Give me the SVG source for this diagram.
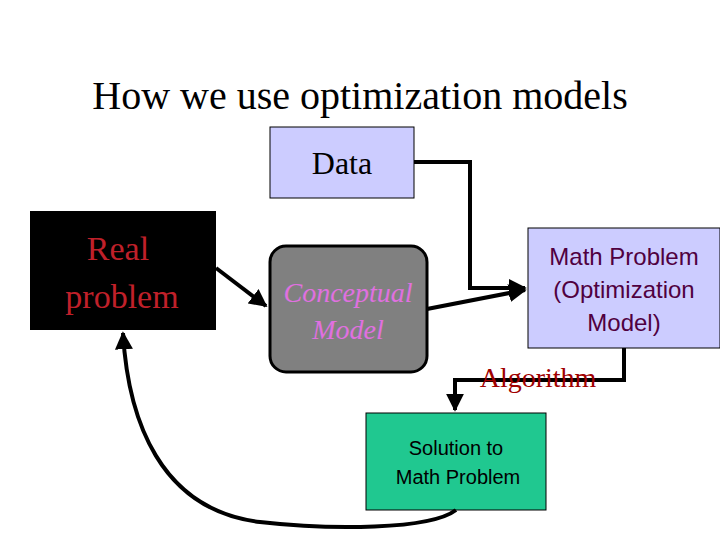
<svg xmlns="http://www.w3.org/2000/svg" width="720" height="540" viewBox="0 0 720 540">
<style>
.serif{font-family:"Liberation Serif",serif}
.sans{font-family:"Liberation Sans",sans-serif}
.c{fill:none;stroke:#000;stroke-width:4}
</style>
<defs><marker id="a" viewBox="0 0 10 10" refX="9" refY="5" markerWidth="4.5" markerHeight="4.5" orient="auto" markerUnits="strokeWidth"><path d="M0,0L10,5L0,10z" fill="#000"/></marker></defs>
<rect width="720" height="540" fill="#fff"/>
<text x="360" y="109" text-anchor="middle" class="serif" font-size="40">How we use optimization models</text>
<g id="data"><rect x="270" y="127" width="144" height="71" fill="#ccccff" stroke="#000" stroke-width="1"/><text x="342" y="174" text-anchor="middle" class="serif" font-size="32">Data</text></g>
<g id="real"><rect x="30" y="211" width="186" height="119" fill="#000"/><text x="118" y="260" text-anchor="middle" class="serif" font-size="34" fill="#c0202a">Real</text><text x="122" y="308" text-anchor="middle" class="serif" font-size="34" fill="#c0202a">problem</text></g>
<g id="concept"><rect x="270" y="246" width="157" height="126" rx="16" fill="#808080" stroke="#000" stroke-width="3"/><text x="348" y="302" text-anchor="middle" class="serif" font-size="28" font-style="italic" fill="#e070e0">Conceptual</text><text x="348" y="339" text-anchor="middle" class="serif" font-size="28" font-style="italic" fill="#e070e0">Model</text></g>
<g id="math"><rect x="528" y="228" width="192" height="120" fill="#ccccff" stroke="#000" stroke-width="1"/><g class="sans" font-size="24" fill="#500040" text-anchor="middle"><text x="624" y="265">Math Problem</text><text x="624" y="298">(Optimization</text><text x="624" y="331">Model)</text></g></g>
<g id="solution"><rect x="366" y="413" width="180" height="97" fill="#20c890" stroke="#000" stroke-width="1"/><g class="sans" font-size="20" text-anchor="middle"><text x="456" y="455">Solution to</text><text x="458" y="484">Math Problem</text></g></g>
<g id="connectors">
<path class="c" d="M414,162H470V288H525" marker-end="url(#a)"/>
<path class="c" d="M427,309L525,290" marker-end="url(#a)"/>
<path class="c" d="M216,268L266,306" marker-end="url(#a)"/>
<path class="c" d="M624,348V380H455V410" marker-end="url(#a)"/>
<path class="c" d="M456,510C430,530 330,530 260,522C160,510 128,420 123,333" marker-end="url(#a)"/>
</g>
<text x="538" y="387" text-anchor="middle" class="serif" font-size="28" fill="#a00000">Algorithm</text>
</svg>
